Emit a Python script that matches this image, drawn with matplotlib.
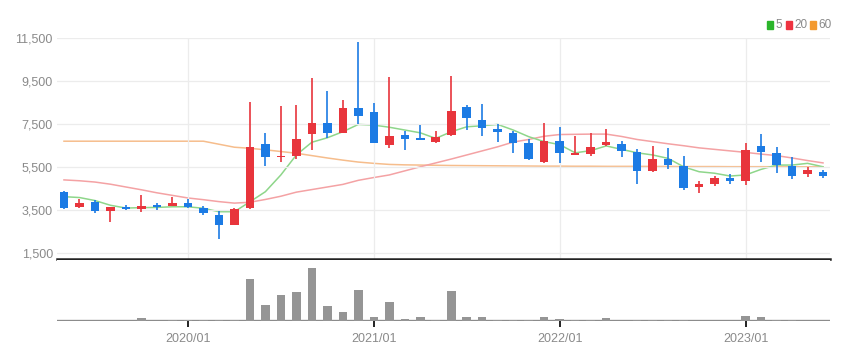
import matplotlib
matplotlib.use("Agg")
import matplotlib.pyplot as plt
import numpy as np
import pandas as pd
from matplotlib.ticker import FuncFormatter

plt.rcParams["font.family"] = ["Liberation Sans Narrow", "Liberation Sans", "DejaVu Sans"]

# monthly candles, 2019/05 .. 2023/06
months = pd.date_range("2019-05-01", periods=50, freq="MS")

opens = [4340, 3630, 3870, 3450, 3640, 3560, 3750, 3690, 3840, 3610,
         3280, 2790, 3580, 6550, 5950, 6020, 7020, 7530, 7100, 8260,
         8060, 6520, 6990, 6850, 6680, 6990, 8290, 7690, 7250, 7090,
         6600, 5750, 6710, 6070, 6120, 6520, 6570, 6180, 5310, 5890,
         5550, 4580, 4710, 4970, 4850, 6480, 6140, 5550, 5160, 5280]
highs = [4400, 4000, 3960, 3640, 3730, 4200, 3840, 4120, 4010, 3700,
         3450, 3590, 8540, 7090, 8340, 8380, 9620, 9050, 8610, 11300,
         8460, 9700, 7170, 7450, 7170, 9750, 8380, 8410, 7500, 7170,
         6800, 7530, 7350, 6950, 7060, 7270, 6710, 6320, 6490, 6370,
         6020, 4860, 5080, 5160, 6600, 7020, 6410, 5980, 5490, 5360]
lows = [3550, 3590, 3350, 2930, 3500, 3420, 3510, 3690, 3580, 3250,
        2140, 2790, 3550, 5550, 5750, 5870, 6290, 6830, 7080, 7480,
        6600, 6370, 6290, 6740, 6610, 6950, 7220, 6940, 6680, 6160,
        5820, 5700, 5670, 6060, 6020, 6490, 5950, 4690, 5280, 5410,
        4430, 4280, 4620, 4710, 4660, 5750, 5210, 4940, 5050, 5010]
closes = [3600, 3840, 3470, 3640, 3560, 3670, 3640, 3810, 3660, 3380,
          2800, 3550, 6440, 5950, 6020, 6790, 7530, 7090, 8260, 7890,
          6630, 6950, 6810, 6760, 6880, 8120, 7790, 7330, 7130, 6630,
          5860, 6710, 6140, 6160, 6440, 6650, 6230, 5320, 5870, 5600,
          4510, 4710, 4970, 4870, 6290, 6190, 5590, 5100, 5360, 5100]

# volume (thousand shares)
volume = [0, 0, 0, 0, 0, 135, 0, 50, 50, 50,
          50, 50, 2085, 785, 1285, 1450, 2665, 750, 465, 1535,
          200, 950, 115, 185, 50, 1500, 200, 200, 50, 50,
          50, 215, 115, 50, 50, 135, 0, 50, 50, 50,
          50, 0, 0, 0, 250, 215, 50, 50, 0, 0]

ma5 = [4120, 4080, 3940, 3720, 3590, 3610, 3620, 3650, 3650, 3580,
       3420, 3420, 3880, 4350, 5130, 6060, 6650, 6860, 7140, 7480,
       7450, 7350, 7220, 7090, 6830, 7140, 7370, 7420, 7480, 7220,
       6910, 6680, 6540, 6160, 6260, 6480, 6320, 6160, 6060, 5900,
       5510, 5280, 5210, 5080, 5130, 5390, 5590, 5590, 5670, 5510]
ma20 = [4900, 4860, 4800, 4700, 4570, 4440, 4300, 4180, 4060, 3980,
        3890, 3820, 3860, 3990, 4140, 4330, 4450, 4570, 4690, 4880,
        5010, 5130, 5320, 5510, 5690, 5870, 6060, 6250, 6440, 6660,
        6780, 6930, 7010, 7020, 7030, 7030, 6920, 6780, 6680, 6580,
        6490, 6390, 6320, 6250, 6180, 6100, 6030, 5920, 5800, 5690]
ma60 = [6700, 6700, 6700, 6700, 6700, 6700, 6700, 6700, 6700, 6700,
        6560, 6420, 6370, 6300, 6220, 6140, 6030, 5920, 5820, 5730,
        5670, 5620, 5600, 5590, 5580, 5570, 5565, 5560, 5555, 5550,
        5545, 5540, 5540, 5535, 5535, 5530, 5530, 5530, 5525, 5525,
        5520, 5520, 5520, 5515, 5515, 5515, 5510, 5510, 5510, 5510]

UP = "#e8353c"
DOWN = "#1c7be4"
GRID = "#ececec"
TEXT = "#8a8a8a"

x = np.arange(len(months))
o, h, l, c = map(np.array, (opens, highs, lows, closes))
colors = np.where(c >= o, UP, DOWN)

fig = plt.figure(figsize=(8.54, 3.6), dpi=100)
W, H = 854, 360


def px_axes(left, top, right, bottom):
    return fig.add_axes([left / W, 1 - bottom / H, (right - left) / W, (bottom - top) / H])


ax = px_axes(57, 38, 830, 259)
vax = px_axes(57, 260, 830, 321)

# price panel
ax.plot(x, ma60, color="#f6bd8c", lw=1.1, zorder=1)
ax.plot(x, ma20, color="#f4a2a4", lw=1.1, zorder=1)
ax.plot(x, ma5, color="#8ed68a", lw=1.1, zorder=1)
ax.vlines(x, l, h, colors=colors, lw=1.2, zorder=2)
body = np.maximum(np.abs(c - o), 70)
ax.bar(x, body, bottom=np.minimum(o, c), width=0.55, color=colors, zorder=3)

ax.set_xlim(-0.45, 49.45)
ax.set_ylim(1221, 11500)
ax.set_yticks([1500, 3500, 5500, 7500, 9500, 11500])
ax.yaxis.set_major_formatter(FuncFormatter(lambda v, p: f"{v:,.0f}"))
jan = [i for i, m in enumerate(months) if m.month == 1]
ax.set_xticks(jan)
ax.tick_params(axis="x", bottom=False, labelbottom=False)
ax.tick_params(axis="y", left=False, length=0, labelsize=9, labelcolor=TEXT, pad=3)
ax.grid(True, color=GRID, lw=0.9, zorder=0)
for s in ["top", "right", "left"]:
    ax.spines[s].set_visible(False)
ax.spines["bottom"].set_color("#222222")
ax.spines["bottom"].set_linewidth(1.8)

# volume panel
vax.bar(x, volume, width=0.55, color="#959595", zorder=2)
vax.axhline(0, color="#8c8c8c", lw=2.4, zorder=1)
vax.set_xlim(-0.45, 49.45)
vax.set_ylim(0, 3050)
vax.set_yticks([])
vax.set_xticks(jan)
vax.set_xticklabels([months[i].strftime("%Y/%m") for i in jan])
vax.tick_params(axis="x", length=4, width=1.4, color="#222222", labelsize=9,
                labelcolor=TEXT, pad=5)
for s in vax.spines.values():
    s.set_visible(False)

# legend
for sx, tx, col, lab in [(767, 775, "#2bb52b", "5"), (786, 794, "#ee3340", "20"),
                         (810, 818, "#f39a30", "60")]:
    fig.patches.append(plt.Rectangle((sx / W, 1 - 29 / H), 6 / W, 8 / H,
                                     transform=fig.transFigure, color=col))
    fig.text(tx / W, 1 - 25 / H, lab, color=TEXT, fontsize=8.5, va="center")

fig.savefig("out.png", dpi=100)
